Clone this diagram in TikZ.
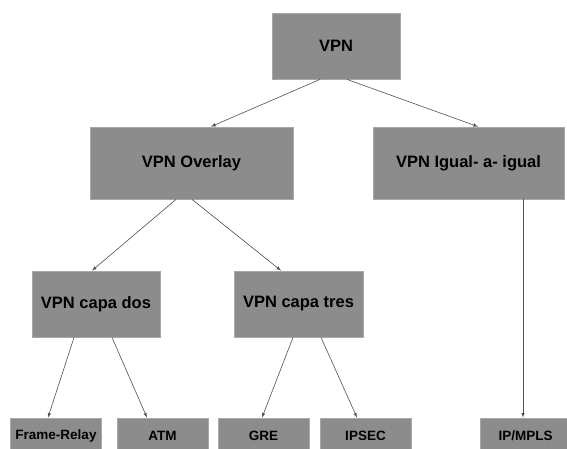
\documentclass[tikz,border=0pt]{standalone}
\usepackage{fontspec}
\setmainfont{Liberation Sans}
\usepackage{tikz}
\definecolor{boxgray}{HTML}{8C8C8C}
\definecolor{edgegray}{HTML}{A8A8A8}
\definecolor{linegray}{HTML}{505050}
\tikzset{
  bigbox/.style={draw=edgegray,line width=0.8pt,fill=boxgray,inner sep=0pt,
    font=\fontsize{16.5}{18}\selectfont\bfseries,text=black},
  leafbox/.style={draw=edgegray,line width=0.8pt,fill=boxgray,inner sep=0pt,
    minimum width=91pt,minimum height=36pt,
    font=\fontsize{13.5}{15}\selectfont\bfseries,text=black},
  link/.style={draw=linegray,line width=0.6pt,->,>=latex}
}

\begin{document}
\begin{tikzpicture}[x=1pt,y=-1pt]
			%frame of the picture
			\useasboundingbox (0,0) rectangle (567,448);
			\clip (0,0) rectangle (567,448);
			%upper levels
			\node[bigbox,minimum width=128pt,minimum height=66pt] (vpn) at (336,46) {VPN};
			\node[bigbox,minimum width=203pt,minimum height=72pt] (overlay) at (191.5,163) {VPN Overlay};
			\node[bigbox,minimum width=191pt,minimum height=72pt] (igual) at (468.5,163) {VPN Igual- a- igual};
			\node[bigbox,minimum width=128pt,minimum height=66pt] (capados) at (96,304) {VPN capa dos};
			\node[bigbox,minimum width=129pt,minimum height=66pt] (capatres) at (298.5,304) {VPN capa tres};
			%leaves
			\node[leafbox] (frame) at (56,436) {Frame-Relay};
			\node[leafbox] (atm) at (162.5,436) {ATM};
			\node[leafbox] (gre) at (263.5,436) {GRE};
			\node[leafbox] (ipsec) at (365.5,436) {IPSEC};
			\node[leafbox] (ipmpls) at (525.5,436) {IP/MPLS};
			%arrows
			\draw[link] ([xshift=-16pt]vpn.south)--([xshift=19.5pt]overlay.north);
			\draw[link] ([xshift=11pt]vpn.south)--([xshift=9.5pt]igual.north);
			\draw[link] ([xshift=-15.5pt]overlay.south)--([xshift=-4pt]capados.north);
			\draw[link] ([xshift=0.5pt]overlay.south)--([xshift=-17.5pt]capatres.north);
			\draw[link] ([xshift=-22pt]capados.south)--([xshift=-8pt]frame.north);
			\draw[link] ([xshift=16pt]capados.south)--([xshift=-15.5pt]atm.north);
			\draw[link] ([xshift=-5.5pt]capatres.south)--([xshift=-1.5pt]gre.north);
			\draw[link] ([xshift=22.5pt]capatres.south)--([xshift=-8.5pt]ipsec.north);
			\draw[link] ([xshift=54.5pt]igual.south)--([xshift=-2.5pt]ipmpls.north);
		\end{tikzpicture}
\end{document}
